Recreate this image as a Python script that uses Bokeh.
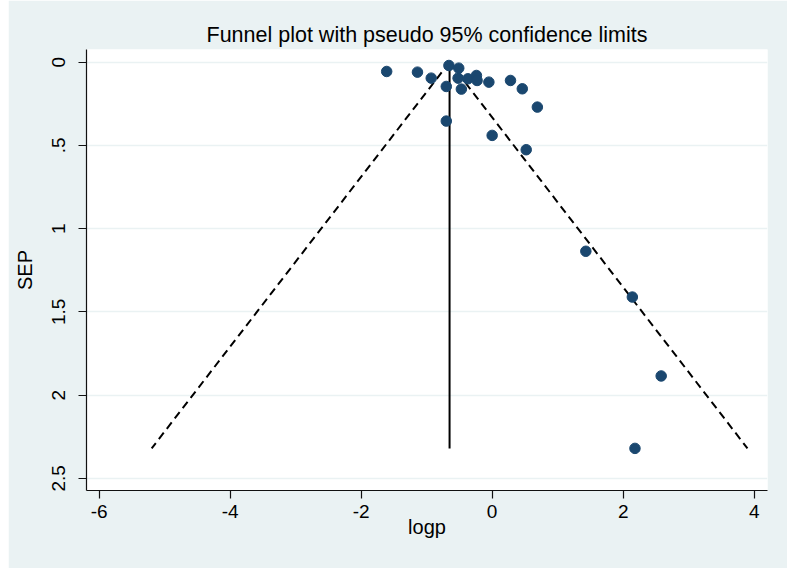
from bokeh.plotting import figure
from bokeh.models import Range1d, FixedTicker
from bokeh.embed import file_html
from bokeh.resources import INLINE

# Study estimates
logp = [-1.61, -1.14, -0.93, -0.66, -0.51, -0.70, -0.52, -0.47, -0.37, -0.24, -0.23,
        -0.05, 0.28, 0.46, 0.69, -0.70, 0.00, 0.52, 1.43, 2.14, 2.58, 2.18]
sep = [0.056, 0.060, 0.096, 0.020, 0.036, 0.146, 0.096, 0.162, 0.100, 0.080, 0.110,
       0.120, 0.110, 0.160, 0.270, 0.354, 0.440, 0.526, 1.136, 1.411, 1.885, 2.32]
pooled = -0.65
z95 = 1.96

x_ticks = [-6, -4, -2, 0, 2, 4]
x_tick_labels = ["-6", "-4", "-2", "0", "2", "4"]
y_ticks = [0, 0.5, 1, 1.5, 2, 2.5]
y_tick_labels = ["0", ".5", "1", "1.5", "2", "2.5"]

BG = "#EAF2F3"
NAVY = "#1A476F"
FONT = "Liberation Sans"

p = figure(width=779, height=568, output_backend="svg", toolbar_location=None,
           margin=(0, 0, 0, 8),
           x_range=Range1d(-6.192, 4.203), y_range=Range1d(2.573, -0.076),
           title="Funnel plot with pseudo 95% confidence limits",
           min_border_left=78, min_border_right=20, min_border_top=49, min_border_bottom=78)

p.border_fill_color = BG
p.background_fill_color = "white"
p.outline_line_color = None

p.title.align = "center"
p.title.text_font = FONT
p.title.text_font_style = "normal"
p.title.text_font_size = "21.5px"
p.title.text_color = "black"
p.title.standoff = 6

p.xgrid.grid_line_color = None
p.ygrid.grid_line_color = BG
p.ygrid.grid_line_width = 1.5

p.xaxis.ticker = FixedTicker(ticks=x_ticks)
p.yaxis.ticker = FixedTicker(ticks=y_ticks)
p.xaxis.major_label_overrides = {t: s for t, s in zip(x_ticks, x_tick_labels)}
p.yaxis.major_label_overrides = {t: s for t, s in zip(y_ticks, y_tick_labels)}
p.yaxis.major_label_orientation = "vertical"

for ax in (p.xaxis, p.yaxis):
    ax.axis_line_color = "#111111"
    ax.axis_line_width = 1.2
    ax.major_tick_line_color = "#111111"
    ax.major_tick_line_width = 1.2
    ax.major_tick_in = 0
    ax.major_tick_out = 8
    ax.minor_tick_line_color = None
    ax.major_label_text_font = FONT
    ax.major_label_text_font_size = "19px"
    ax.major_label_text_color = "black"
    ax.axis_label_text_font = FONT
    ax.axis_label_text_font_size = "20px"
    ax.axis_label_text_font_style = "normal"
    ax.axis_label_text_color = "black"

p.xaxis.axis_label = "logp"
p.yaxis.axis_label = "SEP"
p.xaxis.major_label_standoff = 6
p.yaxis.major_label_standoff = 13
p.xaxis.axis_label_standoff = -5
p.yaxis.axis_label_standoff = 14

max_se = max(sep)
# pooled estimate line
p.line([pooled, pooled], [0, max_se], line_color="black", line_width=2)
# pseudo 95% confidence limits
p.line([pooled, pooled - z95 * max_se], [0, max_se], line_color="black",
       line_width=2, line_dash="8 5")
p.line([pooled, pooled + z95 * max_se], [0, max_se], line_color="black",
       line_width=2, line_dash="8 5")

p.scatter(logp, sep, size=10.5, fill_color=NAVY, line_color=NAVY)

open("out.html", "w").write(file_html(p, INLINE))
